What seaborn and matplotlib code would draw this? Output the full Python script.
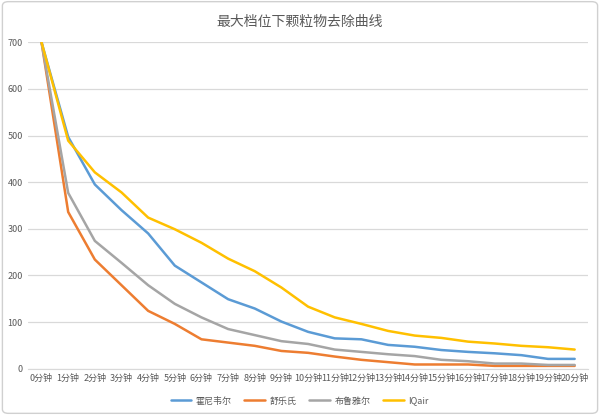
import pandas as pd
import numpy as np
import matplotlib
matplotlib.use("Agg")
import matplotlib.pyplot as plt
import seaborn as sns
from matplotlib.patches import FancyBboxPatch

minutes = [f"{i}分钟" for i in range(21)]
honeywell = [700, 497, 395, 340, 290, 221, 185, 149, 129, 101, 79, 65, 63, 51, 47, 40, 36, 33, 29, 21, 21]
shuleshi = [700, 336, 234, 179, 124, 96, 63, 56, 49, 38, 34, 26, 19, 14, 9, 9, 9, 6, 6, 6, 6]
blueair = [700, 377, 274, 227, 179, 139, 110, 85, 72, 59, 53, 41, 36, 31, 27, 19, 16, 11, 11, 8, 8]
iqair = [700, 489, 421, 378, 324, 299, 270, 236, 209, 174, 133, 110, 96, 81, 71, 66, 58, 54, 49, 46, 41]

series_names = ["霍尼韦尔", "舒乐氏", "布鲁雅尔", "IQair"]
colors = ["#5B9BD5", "#ED7D31", "#A5A5A5", "#FFC000"]

rows = []
for name, vals in zip(series_names, [honeywell, shuleshi, blueair, iqair]):
    for i, v in enumerate(vals):
        rows.append({"idx": i, "value": v, "brand": name})
df = pd.DataFrame(rows)

sns.set_style("white")
plt.rcParams['font.family'] = ['Noto Sans CJK SC', 'DejaVu Sans']

fig = plt.figure(figsize=(6, 4.15), dpi=100)
ax = fig.add_axes([0.047, 0.1116, 0.933, 0.7866])

sns.lineplot(data=df, x="idx", y="value", hue="brand", hue_order=series_names,
             palette=colors, linewidth=1.8, ax=ax, legend=True)

ax.set_xlim(-0.5, 20.5)
ax.set_ylim(0, 700)
ax.set_yticks(range(0, 701, 100))
ax.set_xticks(range(21))
ax.set_xticklabels(minutes)
ax.tick_params(axis="both", labelsize=6.5, colors="#595959", length=0, pad=4)
ax.yaxis.grid(True, color="#D9D9D9", linewidth=0.9)
ax.set_axisbelow(True)
for s in ["top", "right", "left"]:
    ax.spines[s].set_visible(False)
ax.spines["bottom"].set_color("#D9D9D9")
ax.set_xlabel("")
ax.set_ylabel("")

ax.legend(loc="upper center", bbox_to_anchor=(0.485, -0.06), ncol=4, frameon=False,
          fontsize=6.5, labelcolor="#595959", handlelength=2.3, handletextpad=0.5,
          columnspacing=1.4)

fig.suptitle("最大档位下颗粒物去除曲线", y=0.965, fontsize=10, color="#595959")

border = FancyBboxPatch((0.004, 0.004), 0.992, 0.992, boxstyle="round,pad=0,rounding_size=0.01",
                        transform=fig.transFigure, fill=False, edgecolor="#D0D0D0", linewidth=1)
fig.patches.append(border)

fig.savefig("out.png", dpi=100)
